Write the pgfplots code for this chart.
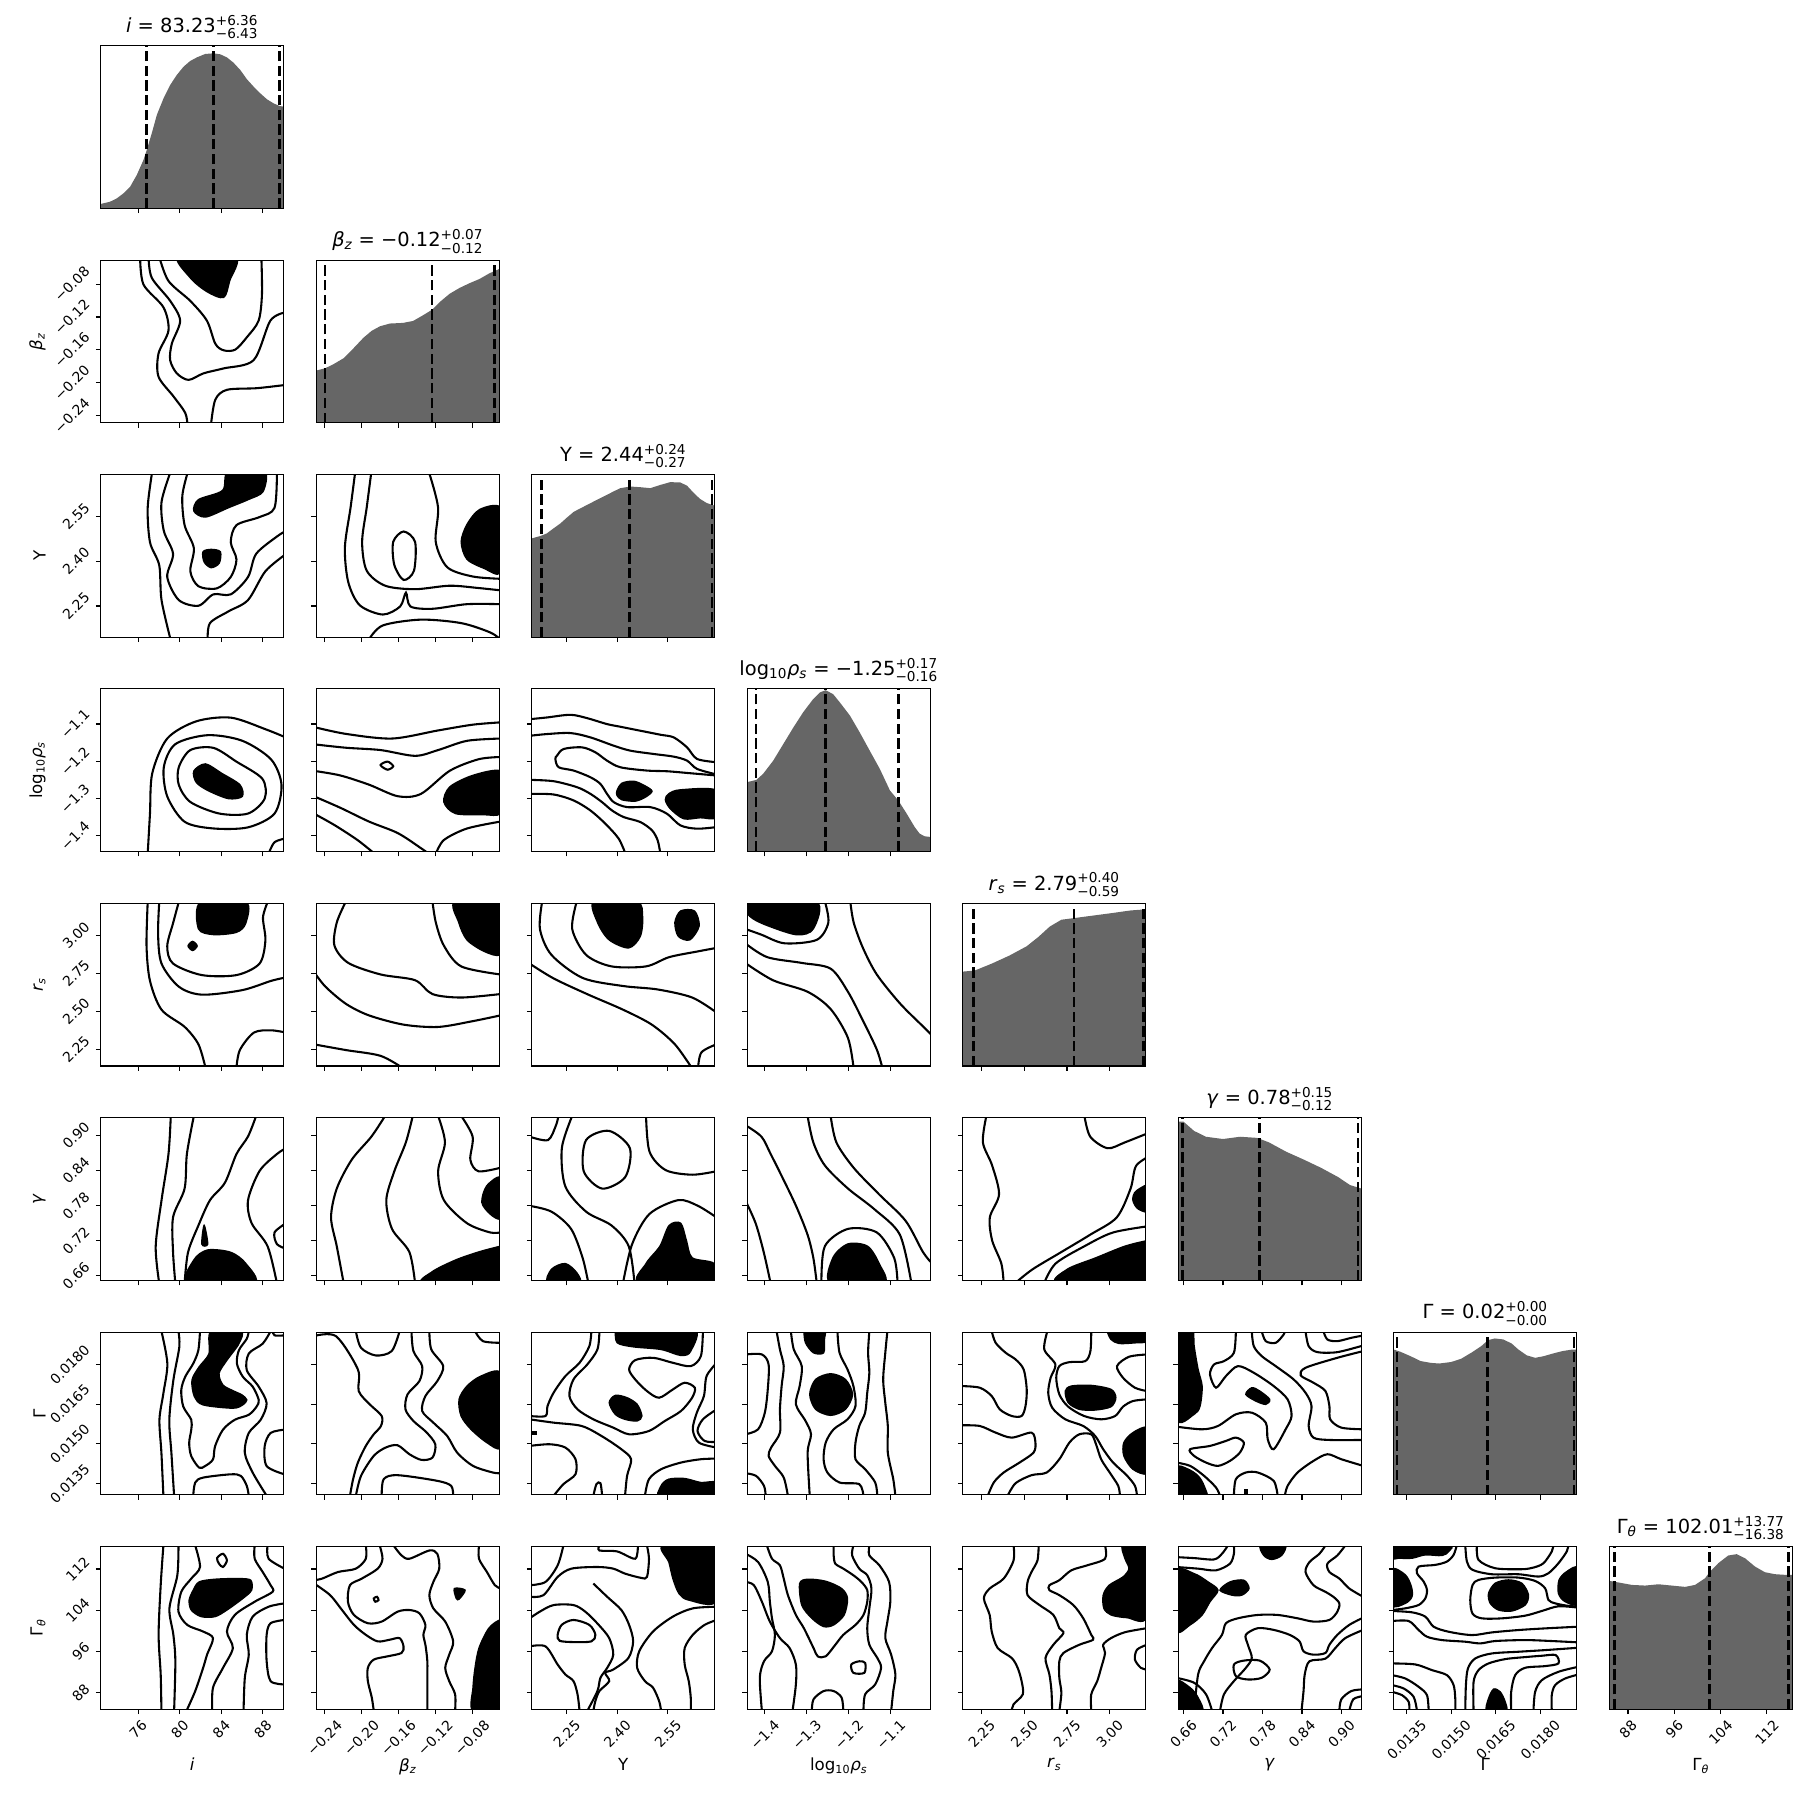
\documentclass[border=0pt]{standalone}
\usepackage{fontspec}
\setmainfont{DejaVu Sans}
\usepackage{amsmath}
\usepackage{graphicx}
\usepackage{pgfplots}
\pgfplotsset{compat=1.18}
\definecolor{histgray}{HTML}{666666}
\newcommand{\rx}[1]{\rotatebox{45}{#1}}
\newcommand{\sus}[2]{$^{\text{#1}}_{\text{#2}}$}
\newcommand{\lbi}{\textit{i}}
\newcommand{\lbb}{\textit{β}$_{\text{\itshape z}}$}
\newcommand{\lbY}{Y}
\newcommand{\lbr}{log$_{\text{10}}$\textit{ρ}$_{\text{\itshape s}}$}
\newcommand{\lbs}{\textit{r}$_{\text{\itshape s}}$}
\newcommand{\lbg}{\textit{γ}}
\newcommand{\lbG}{Γ}
\newcommand{\lbT}{Γ$_{\text{\itshape θ}}$}

\pgfplotsset{
  corner/.style={
    scale only axis, width=131.76pt, height=117.14pt,
    axis line style={line width=0.8pt},
    every tick/.style={black, line width=0.8pt},
    major tick length=3.5pt, tick align=outside, tick pos=left,
    xticklabel=\empty, yticklabel=\empty,
    tick label style={font=\fontsize{10}{12}\selectfont, inner sep=0pt},
    xticklabel style={anchor=north, yshift=-3.5pt},
    yticklabel style={anchor=east, xshift=-3.5pt},
    every axis x label/.style={at={(axis description cs:0.5,-0.3)}, anchor=north, inner sep=0pt, font=\fontsize{12}{14}\selectfont},
    every axis y label/.style={at={(axis description cs:-0.3,0.5)}, rotate=90, anchor=south, inner sep=0pt, font=\fontsize{12}{14}\selectfont},
    every axis title/.style={at={(axis description cs:0.5,1)}, anchor=base, yshift=9.5pt, inner sep=0pt, font=\fontsize{14}{16}\selectfont},
    scaled ticks=false, axis on top, clip=true,
  },
  place/.style 2 args={at={({72.5pt+155.16pt*#1},{1152.43pt-154.37pt*#2})}, anchor=south west},
  diag/.style={ymin=0, ymax=1, ytick=\empty},
  cl/.style={black, line width=1.5pt, smooth, mark=none},
  cc/.style={black, line width=1.5pt, smooth cycle, mark=none},
  bl/.style={fill=black, draw=black, line width=1pt, smooth cycle, mark=none},
  hist/.style={fill=histgray, draw=none, mark=none},
  ql/.style={black, line width=2pt, dash pattern=on 7.4pt off 3.2pt, mark=none},
  % columns
  xI/.style={xmin=72.4, xmax=90.0, xtick={76,80,84,88}},
  xB/.style={xmin=-0.249, xmax=-0.0506, xtick={-0.24,-0.20,-0.16,-0.12,-0.08}},
  xY/.style={xmin=2.146, xmax=2.689, xtick={2.25,2.40,2.55}},
  xR/.style={xmin=-1.442, xmax=-1.006, xtick={-1.4,-1.3,-1.2,-1.1}},
  xS/.style={xmin=2.139, xmax=3.211, xtick={2.25,2.5,2.75,3.0}},
  xGa/.style={xmin=0.652, xmax=0.930, xtick={0.66,0.72,0.78,0.84,0.90}},
  xG/.style={xmin=0.013066, xmax=0.019225, xtick={0.0135,0.0150,0.0165,0.0180}},
  xT/.style={xmin=84.75, xmax=116.37, xtick={88,96,104,112}},
  xIl/.style={xI, xticklabels={\rx{76},\rx{80},\rx{84},\rx{88}}, xlabel={\lbi}},
  xBl/.style={xB, xticklabels={\rx{−0.24},\rx{−0.20},\rx{−0.16},\rx{−0.12},\rx{−0.08}}, xlabel={\lbb}},
  xYl/.style={xY, xticklabels={\rx{2.25},\rx{2.40},\rx{2.55}}, xlabel={\lbY}},
  xRl/.style={xR, xticklabels={\rx{−1.4},\rx{−1.3},\rx{−1.2},\rx{−1.1}}, xlabel={\lbr}},
  xSl/.style={xS, xticklabels={\rx{2.25},\rx{2.50},\rx{2.75},\rx{3.00}}, xlabel={\lbs}},
  xGal/.style={xGa, xticklabels={\rx{0.66},\rx{0.72},\rx{0.78},\rx{0.84},\rx{0.90}}, xlabel={\lbg}},
  xGl/.style={xG, xticklabels={\rx{0.0135},\rx{0.0150},\rx{0.0165},\rx{0.0180}}, xlabel={\lbG}},
  xTl/.style={xT, xticklabels={\rx{88},\rx{96},\rx{104},\rx{112}}, xlabel={\lbT}},
  % rows
  yB/.style={ymin=-0.249, ymax=-0.0506, ytick={-0.24,-0.20,-0.16,-0.12,-0.08}},
  yY/.style={ymin=2.146, ymax=2.689, ytick={2.25,2.40,2.55}},
  yR/.style={ymin=-1.442, ymax=-1.006, ytick={-1.4,-1.3,-1.2,-1.1}},
  yS/.style={ymin=2.139, ymax=3.211, ytick={2.25,2.5,2.75,3.0}},
  yGa/.style={ymin=0.652, ymax=0.930, ytick={0.66,0.72,0.78,0.84,0.90}},
  yG/.style={ymin=0.013066, ymax=0.019225, ytick={0.0135,0.0150,0.0165,0.0180}},
  yT/.style={ymin=84.75, ymax=116.37, ytick={88,96,104,112}},
  yBl/.style={yB, yticklabels={\rx{−0.24},\rx{−0.20},\rx{−0.16},\rx{−0.12},\rx{−0.08}}, ylabel={\lbb}},
  yYl/.style={yY, yticklabels={\rx{2.25},\rx{2.40},\rx{2.55}}, ylabel={\lbY}},
  yRl/.style={yR, yticklabels={\rx{−1.4},\rx{−1.3},\rx{−1.2},\rx{−1.1}}, ylabel={\lbr}},
  ySl/.style={yS, yticklabels={\rx{2.25},\rx{2.50},\rx{2.75},\rx{3.00}}, ylabel={\lbs}},
  yGal/.style={yGa, yticklabels={\rx{0.66},\rx{0.72},\rx{0.78},\rx{0.84},\rx{0.90}}, ylabel={\lbg}},
  yGl/.style={yG, yticklabels={\rx{0.0135},\rx{0.0150},\rx{0.0165},\rx{0.0180}}, ylabel={\lbG}},
  yTl/.style={yT, yticklabels={\rx{88},\rx{96},\rx{104},\rx{112}}, ylabel={\lbT}},
}

\begin{document}
\begin{tikzpicture}
\path[use as bounding box] (0,0) rectangle (1302.48pt,1302.48pt);

% ===================== diagonal =====================
\begin{axis}[corner, place={0}{0}, xI, diag, title={\lbi{} = 83.23\sus{+6.36}{−6.43}}]
\addplot[hist] coordinates {(72.4,0.027) (73.3,0.041) (73.94,0.061) (74.58,0.092) (75.23,0.133) (75.87,0.205) (76.51,0.297) (76.83,0.359) (77.31,0.461) (77.8,0.574) (78.44,0.676) (79.08,0.758) (79.72,0.82) (80.37,0.871) (81.01,0.906) (81.65,0.928) (82.45,0.949) (83.26,0.953) (83.9,0.947) (84.54,0.928) (85.18,0.895) (85.83,0.85) (86.47,0.793) (87.11,0.748) (87.75,0.707) (88.4,0.67) (89.04,0.645) (89.62,0.629) (90.0,0.625)} \closedcycle;
\addplot[ql] coordinates {(76.8,0) (76.8,1)};
\addplot[ql] coordinates {(83.23,0) (83.23,1)};
\addplot[ql] coordinates {(89.59,0) (89.59,1)};
\end{axis}

\begin{axis}[corner, place={1}{1}, xB, diag, title={\lbb{} = −0.12\sus{+0.07}{−0.12}}]
\addplot[hist] coordinates {(-0.249,0.321) (-0.2393,0.335) (-0.2303,0.36) (-0.2195,0.396) (-0.2087,0.457) (-0.1979,0.522) (-0.1889,0.565) (-0.1799,0.593) (-0.1691,0.61) (-0.1547,0.614) (-0.1439,0.626) (-0.1331,0.661) (-0.1234,0.695) (-0.1151,0.742) (-0.1043,0.793) (-0.0935,0.829) (-0.0827,0.858) (-0.0719,0.884) (-0.0611,0.919) (-0.0506,0.945)} \closedcycle;
\addplot[ql] coordinates {(-0.2395,0) (-0.2395,1)};
\addplot[ql] coordinates {(-0.1235,0) (-0.1235,1)};
\addplot[ql] coordinates {(-0.0555,0) (-0.0555,1)};
\end{axis}

\begin{axis}[corner, place={2}{2}, xY, diag, title={\lbY{} = 2.44\sus{+0.24}{−0.27}}]
\addplot[hist] coordinates {(2.146,0.607) (2.172,0.622) (2.191,0.638) (2.211,0.669) (2.231,0.699) (2.251,0.736) (2.271,0.771) (2.3,0.802) (2.33,0.834) (2.36,0.865) (2.389,0.896) (2.409,0.916) (2.439,0.926) (2.468,0.922) (2.498,0.916) (2.528,0.936) (2.557,0.953) (2.587,0.951) (2.607,0.931) (2.627,0.886) (2.646,0.849) (2.666,0.824) (2.689,0.808)} \closedcycle;
\addplot[ql] coordinates {(2.174,0) (2.174,1)};
\addplot[ql] coordinates {(2.437,0) (2.437,1)};
\addplot[ql] coordinates {(2.681,0) (2.681,1)};
\end{axis}

\begin{axis}[corner, place={3}{3}, xR, diag, title={\lbr{} = −1.25\sus{+0.17}{−0.16}}]
\addplot[hist] coordinates {(-1.442,0.427) (-1.42,0.441) (-1.404,0.478) (-1.38,0.559) (-1.356,0.661) (-1.332,0.763) (-1.309,0.855) (-1.285,0.937) (-1.269,0.978) (-1.255,0.992) (-1.237,0.967) (-1.221,0.916) (-1.197,0.835) (-1.174,0.733) (-1.15,0.62) (-1.126,0.508) (-1.102,0.376) (-1.082,0.314) (-1.062,0.233) (-1.043,0.151) (-1.031,0.11) (-1.019,0.094) (-1.006,0.09)} \closedcycle;
\addplot[ql] coordinates {(-1.421,0) (-1.421,1)};
\addplot[ql] coordinates {(-1.255,0) (-1.255,1)};
\addplot[ql] coordinates {(-1.082,0) (-1.082,1)};
\end{axis}

\begin{axis}[corner, place={4}{4}, xS, diag, title={\lbs{} = 2.79\sus{+0.40}{−0.59}}]
\addplot[hist] coordinates {(2.139,0.58) (2.21,0.587) (2.311,0.63) (2.413,0.679) (2.514,0.736) (2.582,0.793) (2.649,0.857) (2.717,0.899) (2.819,0.913) (2.92,0.927) (3.021,0.941) (3.122,0.956) (3.211,0.963)} \closedcycle;
\addplot[ql] coordinates {(2.203,0) (2.203,1)};
\addplot[ql] coordinates {(2.791,0) (2.791,1)};
\addplot[ql] coordinates {(3.197,0) (3.197,1)};
\end{axis}

\begin{axis}[corner, place={5}{5}, xGa, diag, title={\lbg{} = 0.78\sus{+0.15}{−0.12}}]
\addplot[hist] coordinates {(0.652,0.976) (0.66,0.976) (0.676,0.919) (0.694,0.883) (0.72,0.869) (0.746,0.883) (0.772,0.876) (0.79,0.848) (0.816,0.791) (0.843,0.742) (0.869,0.692) (0.895,0.635) (0.913,0.586) (0.93,0.565)} \closedcycle;
\addplot[ql] coordinates {(0.658,0) (0.658,1)};
\addplot[ql] coordinates {(0.776,0) (0.776,1)};
\addplot[ql] coordinates {(0.925,0) (0.925,1)};
\end{axis}

\begin{axis}[corner, place={6}{6}, xG, diag, title={\lbG{} = 0.02\sus{+0.00}{−0.00}}]
\addplot[hist] coordinates {(0.013066,0.893) (0.013293,0.879) (0.013633,0.852) (0.013973,0.822) (0.014313,0.811) (0.014597,0.807) (0.014994,0.816) (0.015334,0.836) (0.015674,0.873) (0.016014,0.914) (0.016241,0.951) (0.016468,0.961) (0.016752,0.955) (0.017035,0.93) (0.017262,0.893) (0.017545,0.857) (0.017829,0.842) (0.018112,0.852) (0.018396,0.867) (0.018736,0.883) (0.019076,0.893) (0.019225,0.893)} \closedcycle;
\addplot[ql] coordinates {(0.013179,0) (0.013179,1)};
\addplot[ql] coordinates {(0.016218,0) (0.016218,1)};
\addplot[ql] coordinates {(0.019133,0) (0.019133,1)};
\end{axis}

\begin{axis}[corner, place={7}{7}, xTl, diag, title={\lbT{} = 102.01\sus{+13.77}{−16.38}}]
\addplot[hist] coordinates {(84.75,0.789) (86.36,0.779) (88.66,0.764) (90.96,0.76) (93.26,0.768) (95.56,0.76) (97.86,0.752) (99.58,0.764) (101.31,0.805) (102.17,0.846) (103.61,0.898) (105.33,0.945) (106.77,0.953) (108.21,0.928) (109.93,0.877) (111.66,0.842) (113.38,0.83) (115.1,0.826) (116.37,0.826)} \closedcycle;
\addplot[ql] coordinates {(85.63,0) (85.63,1)};
\addplot[ql] coordinates {(102.01,0) (102.01,1)};
\addplot[ql] coordinates {(115.78,0) (115.78,1)};
\end{axis}

% ===================== column 0 (i) =====================
\begin{axis}[corner, place={0}{1}, xI, yBl]
\addplot[bl] coordinates {(79.88,-0.046) (81.01,-0.0721) (82.61,-0.089) (84.22,-0.0962) (84.8,-0.0761) (85.34,-0.046)};
\addplot[cl] coordinates {(78.02,-0.046) (78.92,-0.0761) (81.01,-0.1003) (82.61,-0.1244) (83.42,-0.1525) (84.22,-0.1606) (85.34,-0.1598) (86.47,-0.1445) (87.59,-0.1244) (87.91,-0.0922) (87.85,-0.046)};
\addplot[cl] coordinates {(77.0,-0.046) (77.31,-0.0721) (79.08,-0.1003) (80.04,-0.1244) (79.24,-0.1525) (79.08,-0.1726) (79.72,-0.1887) (80.85,-0.1967) (82.29,-0.1887) (84.22,-0.1827) (87.11,-0.1726) (88.72,-0.1244) (90.2,-0.1143)};
\addplot[cl] coordinates {(76.19,-0.046) (76.51,-0.0802) (78.44,-0.1083) (78.92,-0.1364) (77.96,-0.1646) (77.96,-0.1927) (79.4,-0.2168) (80.53,-0.2369) (80.75,-0.252)};
\addplot[cl] coordinates {(83.0,-0.252) (83.42,-0.2209) (84.54,-0.2088) (87.43,-0.2068) (90.2,-0.2028)};
\end{axis}

\begin{axis}[corner, place={0}{2}, xI, yYl]
\addplot[bl] coordinates {(84.68,2.70) (84.13,2.636) (81.8,2.605) (81.36,2.567) (82.47,2.547) (84.68,2.578) (86.57,2.605) (88.01,2.632) (88.12,2.70)};
\addplot[bl] coordinates {(82.24,2.431) (83.02,2.439) (83.91,2.431) (83.8,2.393) (83.02,2.378) (82.35,2.397)};
\addplot[cl] coordinates {(80.8,2.70) (80.25,2.617) (80.47,2.52) (81.36,2.443) (81.02,2.366) (81.8,2.316) (83.57,2.309) (84.91,2.347) (85.46,2.405) (84.91,2.463) (85.46,2.52) (87.68,2.547) (89.12,2.578) (89.35,2.70)};
\addplot[cl] coordinates {(79.14,2.70) (78.25,2.597) (78.47,2.501) (79.36,2.424) (78.8,2.347) (79.91,2.27) (81.8,2.251) (83.24,2.289) (84.91,2.289) (86.57,2.347) (87.35,2.424) (89.35,2.482) (90.24,2.501)};
\addplot[cl] coordinates {(77.36,2.70) (76.92,2.578) (77.14,2.463) (78.03,2.386) (78.25,2.27) (79.14,2.135)};
\addplot[cl] coordinates {(82.69,2.135) (82.91,2.193) (84.68,2.232) (86.57,2.27) (88.24,2.366) (90.24,2.424)};
\end{axis}

\begin{axis}[corner, place={0}{3}, xI, yRl]
\addplot[bl] coordinates {(81.36,-1.226) (82.47,-1.207) (84.02,-1.232) (85.79,-1.263) (86.02,-1.294) (84.68,-1.3) (82.69,-1.278) (81.58,-1.256)};
\addplot[cc] coordinates {(79.91,-1.216) (81.02,-1.17) (83.24,-1.164) (85.46,-1.201) (87.95,-1.247) (88.17,-1.3) (86.57,-1.34) (83.8,-1.34) (81.02,-1.309) (79.91,-1.263)};
\addplot[cc] coordinates {(78.8,-1.294) (78.47,-1.216) (79.58,-1.154) (82.69,-1.13) (86.02,-1.145) (88.79,-1.195) (89.79,-1.263) (89.12,-1.34) (86.57,-1.377) (83.24,-1.38) (80.47,-1.362)};
\addplot[cl] coordinates {(76.92,-1.448) (77.14,-1.34) (77.36,-1.232) (78.8,-1.139) (81.58,-1.093) (84.91,-1.083) (88.24,-1.114) (90.45,-1.139)};
\addplot[cl] coordinates {(88.46,-1.454) (89.12,-1.417) (90.45,-1.405)};
\end{axis}

\begin{axis}[corner, place={0}{4}, xI, ySl]
\addplot[bl] coordinates {(82.02,3.22) (81.8,3.043) (83.24,3.005) (85.46,3.02) (86.35,3.08) (86.35,3.22)};
\addplot[bl] coordinates {(80.8,2.93) (81.24,2.96) (81.68,2.93) (81.24,2.9)};
\addplot[cl] coordinates {(79.91,3.22) (79.36,3.08) (78.8,2.928) (79.36,2.814) (82.13,2.738) (85.46,2.738) (87.68,2.814) (88.24,2.966) (88.01,3.118) (88.46,3.22)};
\addplot[cl] coordinates {(78.03,3.22) (77.92,3.005) (78.25,2.814) (79.91,2.662) (82.13,2.609) (86.02,2.639) (88.79,2.7) (90.24,2.723)};
\addplot[cl] coordinates {(76.92,3.22) (76.81,2.928) (77.14,2.7) (78.25,2.51) (80.47,2.397) (81.8,2.282) (82.47,2.13)};
\addplot[cl] coordinates {(85.46,2.13) (85.79,2.245) (87.13,2.359) (88.79,2.374) (90.24,2.359)};
\end{axis}

\begin{axis}[corner, place={0}{5}, xI, yGal]
\addplot[bl] coordinates {(80.8,0.647) (81.36,0.687) (82.69,0.704) (84.91,0.7) (86.35,0.681) (87.13,0.647)};
\addplot[bl] coordinates {(82.13,0.714) (82.35,0.746) (82.69,0.714)};
\addplot[cl] coordinates {(79.14,0.933) (78.92,0.868) (78.25,0.789) (77.69,0.71) (78.03,0.647)};
\addplot[cl] coordinates {(81.36,0.933) (80.69,0.868) (80.47,0.809) (79.36,0.76) (79.36,0.7) (79.58,0.647)};
\addplot[cl] coordinates {(80.47,0.647) (80.8,0.7) (81.8,0.746) (82.91,0.789) (84.35,0.819) (85.46,0.868) (86.57,0.898) (87.35,0.933)};
\addplot[cl] coordinates {(89.35,0.647) (88.46,0.71) (86.91,0.75) (86.57,0.789) (87.68,0.839) (89.35,0.868) (90.24,0.878)};
\addplot[cl] coordinates {(90.24,0.75) (89.12,0.734) (89.35,0.714) (90.24,0.706)};
\end{axis}

\begin{axis}[corner, place={0}{6}, xI, yGl]
\addplot[bl] coordinates {(83.01,0.01926) (82.82,0.018412) (81.87,0.017911) (81.18,0.01741) (81.41,0.016784) (82.25,0.016471) (85.11,0.016346) (86.07,0.016471) (86.45,0.016659) (85.99,0.016847) (85.11,0.01701) (84.16,0.017223) (83.78,0.017661) (84.54,0.018162) (85.69,0.018788) (85.88,0.01926)};
\addplot[cl] coordinates {(81.95,0.01926) (81.79,0.018537) (81.3,0.018036) (80.53,0.017536) (80.15,0.017035) (80.34,0.016409) (81.11,0.015908) (81.11,0.015532) (80.91,0.015032) (81.11,0.014531) (81.87,0.014093) (82.44,0.014155) (83.2,0.014406) (83.4,0.014906) (84.16,0.015532) (85.3,0.015908) (86.64,0.016096) (87.4,0.016409) (87.6,0.016659) (87.02,0.01716) (86.07,0.017536) (85.5,0.018036) (85.69,0.018537) (86.45,0.018975) (86.64,0.01926)};
\addplot[cl] coordinates {(78.24,0.01926) (78.81,0.018036) (78.43,0.01691) (78.05,0.015908) (78.24,0.014656) (78.43,0.01303)};
\addplot[cl] coordinates {(79.88,0.01926) (79.96,0.018662) (79.39,0.01741) (79.0,0.015908) (79.2,0.014656) (79.46,0.01303)};
\addplot[cl] coordinates {(88.74,0.01926) (87.98,0.018788) (86.64,0.018412) (86.45,0.017786) (87.6,0.01716) (88.36,0.016534) (87.79,0.015908) (86.64,0.015407) (86.26,0.014656) (87.02,0.013905) (88.36,0.01303)};
\addplot[cl] coordinates {(90.08,0.015532) (88.74,0.015407) (88.17,0.014906) (88.36,0.014155) (90.08,0.013842)};
\addplot[cl] coordinates {(88.94,0.01926) (89.12,0.019101) (90.08,0.019101)};
\addplot[cl] coordinates {(81.3,0.01303) (81.49,0.013529) (82.25,0.013717) (84.92,0.013842) (85.88,0.01378) (86.45,0.013404) (86.64,0.01303)};
\end{axis}

\begin{axis}[corner, place={0}{7}, xIl, yTl]
\addplot[bl] coordinates {(81.3,107.89) (81.87,109.49) (83.4,110.01) (85.69,110.14) (86.83,109.82) (86.91,107.89) (86.07,106.28) (84.54,104.03) (83.4,102.75) (82.06,102.75) (81.11,104.03) (80.91,105.96)};
\addplot[cc] coordinates {(83.59,114.12) (84.16,114.96) (84.54,113.67) (84.16,112.39) (83.78,113.03)};
\addplot[cl] coordinates {(78.43,116.56) (78.17,108.85) (77.97,99.21) (78.17,91.5) (78.24,84.43)};
\addplot[cl] coordinates {(79.88,116.56) (79.77,110.78) (79.01,104.35) (79.39,99.21) (79.58,94.07) (79.46,84.43)};
\addplot[cl] coordinates {(81.49,116.56) (81.95,112.39) (81.11,110.14) (80.15,107.57) (79.88,103.71) (80.72,101.14) (82.25,99.85) (83.2,98.57) (82.63,95.35) (82.25,92.78) (81.49,88.28) (80.65,84.43)};
\addplot[cl] coordinates {(87.21,116.56) (87.21,114.0) (87.98,111.42) (88.74,108.85) (88.93,107.57) (87.21,105.64) (85.3,103.07) (84.54,99.85) (85.11,96.64) (84.16,92.78) (83.2,88.93) (83.13,84.43)};
\addplot[cl] coordinates {(88.44,116.56) (88.55,114.0) (90.08,112.07)};
\addplot[cl] coordinates {(90.08,105.32) (88.55,104.67) (87.02,102.75) (86.45,99.21) (86.64,95.35) (86.26,90.86) (86.14,84.43)};
\addplot[cl] coordinates {(90.08,102.1) (88.74,101.46) (88.36,99.21) (88.36,94.07) (88.74,90.21) (90.08,89.57)};
\end{axis}

% ===================== column 1 (beta_z) =====================
\begin{axis}[corner, place={1}{2}, xB, yY]
\addplot[bl] coordinates {(-0.0494,2.5796) (-0.0719,2.5719) (-0.0856,2.5218) (-0.0918,2.4641) (-0.0856,2.4063) (-0.0669,2.3755) (-0.0494,2.3602) (-0.045,2.47)};
\addplot[cl] coordinates {(-0.2067,2.698) (-0.2117,2.5796) (-0.2179,2.4449) (-0.2142,2.3294) (-0.2017,2.2524) (-0.1767,2.2216) (-0.158,2.2485) (-0.1517,2.2947) (-0.1468,2.2485) (-0.123,2.2408) (-0.0856,2.2562) (-0.0494,2.2562)};
\addplot[cl] coordinates {(-0.1892,2.698) (-0.1942,2.5796) (-0.1992,2.4641) (-0.1942,2.3679) (-0.1742,2.3178) (-0.1418,2.3062) (-0.1043,2.3178) (-0.0731,2.3101) (-0.0494,2.3024)};
\addplot[cl] coordinates {(-0.1269,2.698) (-0.1169,2.5796) (-0.1194,2.4641) (-0.1069,2.3794) (-0.0794,2.3486) (-0.0494,2.3409)};
\addplot[cc] coordinates {(-0.1655,2.4641) (-0.1542,2.4988) (-0.1418,2.4641) (-0.143,2.3679) (-0.1542,2.3371) (-0.1643,2.3871)};
\addplot[cl] coordinates {(-0.1917,2.139) (-0.1767,2.1853) (-0.1355,2.2046) (-0.0918,2.193) (-0.0606,2.1622) (-0.0494,2.139)};
\end{axis}

\begin{axis}[corner, place={1}{3}, xB, yR]
\addplot[bl] coordinates {(-0.0494,-1.2256) (-0.0794,-1.2379) (-0.1043,-1.2689) (-0.1106,-1.309) (-0.0981,-1.34) (-0.0669,-1.3431) (-0.0494,-1.34) (-0.045,-1.28)};
\addplot[cc] coordinates {(-0.1792,-1.2101) (-0.1717,-1.2008) (-0.1655,-1.2132) (-0.1717,-1.2225)};
\addplot[cl] coordinates {(-0.2516,-1.1081) (-0.2167,-1.1266) (-0.1667,-1.139) (-0.1168,-1.1173) (-0.0794,-1.1019) (-0.0494,-1.0957)};
\addplot[cl] coordinates {(-0.2516,-1.1544) (-0.2167,-1.1637) (-0.1792,-1.1699) (-0.1418,-1.1854) (-0.1168,-1.1699) (-0.0856,-1.1452) (-0.0494,-1.139)};
\addplot[cl] coordinates {(-0.2516,-1.2256) (-0.2229,-1.2379) (-0.1917,-1.2627) (-0.1605,-1.2936) (-0.1355,-1.2874) (-0.1043,-1.2256) (-0.0731,-1.1946) (-0.0494,-1.1885)};
\addplot[cl] coordinates {(-0.2516,-1.2936) (-0.2229,-1.3245) (-0.1917,-1.3616) (-0.1605,-1.3925) (-0.1355,-1.4327) (-0.1268,-1.448)};
\addplot[cl] coordinates {(-0.2516,-1.34) (-0.2292,-1.3709) (-0.2042,-1.4111) (-0.1855,-1.448)};
\addplot[cl] coordinates {(-0.0494,-1.3616) (-0.0856,-1.3802) (-0.1106,-1.4111) (-0.1193,-1.448)};
\end{axis}

\begin{axis}[corner, place={1}{4}, xB, yS]
\addplot[bl] coordinates {(-0.0981,3.2247) (-0.0944,3.0843) (-0.0856,2.9703) (-0.0669,2.8943) (-0.0494,2.8715) (-0.042,3.0) (-0.042,3.225)};
\addplot[cl] coordinates {(-0.123,3.2247) (-0.1193,3.0843) (-0.1106,2.9323) (-0.0918,2.7954) (-0.0494,2.7422)};
\addplot[cl] coordinates {(-0.2167,3.2247) (-0.2267,3.0843) (-0.2292,2.9323) (-0.2142,2.8182) (-0.1792,2.7422) (-0.1418,2.7042) (-0.123,2.613) (-0.0918,2.5902) (-0.0494,2.613)};
\addplot[cl] coordinates {(-0.2516,2.7612) (-0.2391,2.6624) (-0.2167,2.5483) (-0.1917,2.4723) (-0.1542,2.4115) (-0.1168,2.3963) (-0.0794,2.4343) (-0.0494,2.4723)};
\addplot[cl] coordinates {(-0.2516,2.2819) (-0.2167,2.2439) (-0.1792,2.2059) (-0.1542,2.122)};
\end{axis}

\begin{axis}[corner, place={1}{5}, xB, yGa]
\addplot[bl] coordinates {(-0.1318,0.6473) (-0.123,0.667) (-0.0981,0.6867) (-0.0731,0.7005) (-0.0494,0.7104) (-0.0457,0.7104) (-0.0457,0.6473)};
\addplot[bl] coordinates {(-0.0494,0.8287) (-0.0644,0.8129) (-0.0694,0.7853) (-0.0606,0.7656) (-0.0494,0.7577) (-0.0457,0.7931)};
\addplot[cl] coordinates {(-0.1743,0.9331) (-0.1892,0.8976) (-0.2105,0.8582) (-0.2267,0.8089) (-0.2329,0.7596) (-0.2267,0.7104) (-0.2192,0.6473)};
\addplot[cl] coordinates {(-0.1443,0.9331) (-0.1518,0.8878) (-0.1643,0.8385) (-0.173,0.7892) (-0.1668,0.7399) (-0.148,0.7005) (-0.1418,0.6473)};
\addplot[cl] coordinates {(-0.1168,0.9331) (-0.1094,0.8878) (-0.1168,0.8385) (-0.1106,0.7892) (-0.0856,0.7498) (-0.0606,0.734) (-0.0494,0.734)};
\addplot[cl] coordinates {(-0.0918,0.9331) (-0.0794,0.8976) (-0.0819,0.8582) (-0.0731,0.8385) (-0.0494,0.8444)};
\end{axis}

\begin{axis}[corner, place={1}{6}, xB, yG]
\addplot[bl] coordinates {(-0.0489,0.017686) (-0.0704,0.01756) (-0.0855,0.017183) (-0.0941,0.016679) (-0.0919,0.01605) (-0.0812,0.015546) (-0.064,0.015043) (-0.0489,0.014854) (-0.045,0.0162)};
\addplot[cl] coordinates {(-0.252,0.019071) (-0.2275,0.019071) (-0.2038,0.017812) (-0.2029,0.016994) (-0.1909,0.01649) (-0.178,0.01605) (-0.1788,0.015672) (-0.1866,0.015357) (-0.1952,0.014917) (-0.2038,0.014287) (-0.209,0.013658) (-0.2124,0.013028)};
\addplot[cl] coordinates {(-0.206,0.013028) (-0.2004,0.013784) (-0.1866,0.014539) (-0.1737,0.014854) (-0.1608,0.014942) (-0.1479,0.014602) (-0.1349,0.014388) (-0.1229,0.014476) (-0.1199,0.01498) (-0.1298,0.015445) (-0.1436,0.015861) (-0.1522,0.016302) (-0.15,0.016868) (-0.1371,0.017372) (-0.1341,0.017938) (-0.1436,0.018505) (-0.1457,0.01926)};
\addplot[cl] coordinates {(-0.1263,0.01926) (-0.1242,0.018568) (-0.1113,0.017938) (-0.1177,0.017372) (-0.1306,0.016805) (-0.1341,0.016239) (-0.122,0.015798) (-0.107,0.015294) (-0.0962,0.014665) (-0.079,0.014161) (-0.0575,0.01391) (-0.0489,0.013884)};
\addplot[cl] coordinates {(-0.206,0.01926) (-0.2004,0.018631) (-0.1844,0.018341) (-0.1672,0.018505) (-0.1586,0.01926)};
\addplot[cl] coordinates {(-0.0768,0.01926) (-0.0682,0.018883) (-0.0489,0.01882)};
\addplot[cl] coordinates {(-0.178,0.013028) (-0.1758,0.013658) (-0.1608,0.013809) (-0.1177,0.013595) (-0.1027,0.013406) (-0.1005,0.013028)};
\end{axis}

\begin{axis}[corner, place={1}{7}, xBl, yT]
\addplot[bl] coordinates {(-0.0489,102.1) (-0.0618,100.5) (-0.0725,96.64) (-0.0768,92.78) (-0.079,88.93) (-0.079,84.43) (-0.045,84.43) (-0.045,100.0)};
\addplot[bl] coordinates {(-0.0992,108.21) (-0.0876,107.89) (-0.094,106.15) (-0.0971,106.28)};
\addplot[cc] coordinates {(-0.1866,106.28) (-0.1831,106.6) (-0.1814,105.96) (-0.1849,105.64)};
\addplot[cl] coordinates {(-0.2512,109.82) (-0.2425,110.14) (-0.2253,111.42) (-0.206,112.07) (-0.1952,114.0) (-0.1952,116.56)};
\addplot[cl] coordinates {(-0.2512,109.17) (-0.2339,106.92) (-0.221,104.03) (-0.2081,101.14) (-0.1952,99.21) (-0.1823,97.93) (-0.1694,98.25) (-0.1586,98.57) (-0.1543,96.96) (-0.1565,95.68) (-0.1715,95.03) (-0.1866,94.39) (-0.193,92.78) (-0.193,90.21) (-0.1887,87.0) (-0.1866,84.43)};
\addplot[cl] coordinates {(-0.1801,116.56) (-0.1771,114.0) (-0.1823,112.07) (-0.1995,110.14) (-0.2124,108.85) (-0.2146,105.64) (-0.2081,103.07) (-0.193,101.46) (-0.178,101.78) (-0.1608,103.71) (-0.1479,104.03) (-0.1371,103.39) (-0.1306,101.14) (-0.1328,99.21) (-0.1306,97.28) (-0.1285,94.07) (-0.1285,90.21) (-0.1285,84.43)};
\addplot[cl] coordinates {(-0.1651,116.56) (-0.1565,114.64) (-0.1479,114.0) (-0.1263,115.6) (-0.1177,114.96) (-0.1156,112.07) (-0.122,109.49) (-0.1263,106.92) (-0.122,104.35) (-0.1091,101.78) (-0.1005,97.93) (-0.1048,95.35) (-0.1091,92.78) (-0.1048,90.21) (-0.0984,87.64) (-0.0984,84.43)};
\addplot[cl] coordinates {(-0.0725,116.56) (-0.0725,114.0) (-0.0639,111.42) (-0.0553,108.85) (-0.0489,108.21)};
\end{axis}

% ===================== column 2 (Y) =====================
\begin{axis}[corner, place={2}{3}, xY, yR]
\addplot[bl] coordinates {(2.3992,-1.2783) (2.414,-1.2587) (2.4486,-1.2534) (2.4803,-1.2649) (2.503,-1.28) (2.4833,-1.2961) (2.4536,-1.3067) (2.414,-1.3032) (2.3992,-1.2916)};
\addplot[bl] coordinates {(2.696,-1.2783) (2.5871,-1.2765) (2.5525,-1.2872) (2.5426,-1.3032) (2.5574,-1.3272) (2.597,-1.3539) (2.6464,-1.3512) (2.696,-1.3495)};
\addplot[cl] coordinates {(2.142,-1.087) (2.1915,-1.0825) (2.2607,-1.0754) (2.3102,-1.0843) (2.3695,-1.1003) (2.4091,-1.1074) (2.4684,-1.1181) (2.5278,-1.1288) (2.5673,-1.1359) (2.6069,-1.1626) (2.6366,-1.1937) (2.696,-1.2026)};
\addplot[cl] coordinates {(2.142,-1.1315) (2.1915,-1.127) (2.2607,-1.1243) (2.3201,-1.1359) (2.3893,-1.1582) (2.4387,-1.1715) (2.508,-1.1804) (2.5673,-1.1875) (2.6069,-1.1982) (2.6366,-1.2204) (2.696,-1.2356)};
\addplot[cl] coordinates {(2.696,-1.2382) (2.6168,-1.232) (2.5475,-1.2267) (2.4882,-1.2249) (2.4091,-1.216) (2.3695,-1.1982) (2.3349,-1.1759) (2.2953,-1.1626) (2.2409,-1.167) (2.2212,-1.1848) (2.2162,-1.1937) (2.2261,-1.216) (2.2706,-1.2249) (2.3201,-1.2427) (2.3497,-1.2605) (2.3695,-1.2872) (2.3893,-1.3094) (2.4289,-1.3228) (2.4981,-1.3228) (2.5475,-1.3406) (2.5871,-1.3717) (2.6366,-1.3806) (2.696,-1.3762)};
\addplot[cl] coordinates {(2.142,-1.2498) (2.2113,-1.2534) (2.2805,-1.2694) (2.3201,-1.2872) (2.3547,-1.3094) (2.3843,-1.3317) (2.419,-1.3495) (2.4684,-1.3628) (2.503,-1.3851) (2.5198,-1.4118) (2.5277,-1.447)};
\addplot[cl] coordinates {(2.142,-1.2872) (2.2113,-1.289) (2.2706,-1.305) (2.3201,-1.3317) (2.3646,-1.3673) (2.4041,-1.4073) (2.4239,-1.447)};
\end{axis}

\begin{axis}[corner, place={2}{4}, xY, yS]
\addplot[bl] coordinates {(2.3312,3.2247) (2.3415,3.0843) (2.3757,2.9703) (2.4339,2.9171) (2.4682,2.9931) (2.475,3.1223) (2.4579,3.2247)};
\addplot[bl] coordinates {(2.5709,3.0843) (2.588,3.1603) (2.6291,3.1603) (2.6428,3.0615) (2.6154,2.9703) (2.5812,2.9931)};
\addplot[cl] coordinates {(2.2799,3.2247) (2.2662,3.0423) (2.3073,2.8715) (2.3827,2.7954) (2.4854,2.7954) (2.5539,2.8563) (2.6395,2.8943) (2.6943,2.9171)};
\addplot[cl] coordinates {(2.1772,3.2247) (2.1704,3.0423) (2.2045,2.8715) (2.297,2.7194) (2.4168,2.6662) (2.5195,2.6434) (2.6222,2.5902) (2.6943,2.4914)};
\addplot[cl] coordinates {(2.1395,2.8144) (2.2114,2.7156) (2.3141,2.6092) (2.4168,2.5103) (2.5024,2.4115) (2.5709,2.2819) (2.6222,2.122)};
\addplot[cl] coordinates {(2.6393,2.122) (2.6496,2.2287) (2.6943,2.2819)};
\end{axis}

\begin{axis}[corner, place={2}{5}, xY, yGa]
\addplot[bl] coordinates {(2.4682,0.6473) (2.4853,0.6808) (2.5264,0.7104) (2.5538,0.7459) (2.588,0.7498) (2.6051,0.7202) (2.6222,0.6907) (2.6873,0.6808) (2.708,0.6473)};
\addplot[bl] coordinates {(2.1943,0.6473) (2.2045,0.6709) (2.2456,0.6808) (2.2799,0.665) (2.2867,0.6473)};
\addplot[cl] coordinates {(2.2662,0.9331) (2.2354,0.8779) (2.2456,0.8129) (2.3073,0.7695) (2.3827,0.7459) (2.4339,0.7104) (2.4511,0.6473)};
\addplot[cc] coordinates {(2.3073,0.8917) (2.3757,0.9075) (2.4373,0.8779) (2.4236,0.8287) (2.3552,0.8089) (2.3004,0.8385)};
\addplot[cl] coordinates {(2.4853,0.9331) (2.4956,0.872) (2.5435,0.8405) (2.6222,0.8326) (2.6941,0.8385)};
\addplot[cl] coordinates {(2.4168,0.6473) (2.4442,0.7143) (2.4956,0.7656) (2.5812,0.7892) (2.6393,0.7794) (2.6941,0.7597)};
\addplot[cl] coordinates {(2.1395,0.7794) (2.2045,0.7695) (2.2628,0.74) (2.297,0.6907) (2.3141,0.6473)};
\addplot[cl] coordinates {(2.1395,0.8977) (2.1943,0.8918) (2.2183,0.9174) (2.2251,0.9331)};
\end{axis}

\begin{axis}[corner, place={2}{6}, xY, yG]
\addplot[bl] coordinates {(2.394,0.0194) (2.394,0.01926) (2.4,0.01882) (2.447,0.018669) (2.53,0.018568) (2.589,0.018341) (2.618,0.018505) (2.624,0.0194)};
\addplot[bl] coordinates {(2.376,0.016553) (2.394,0.01683) (2.429,0.016742) (2.459,0.01649) (2.473,0.01605) (2.459,0.015861) (2.423,0.015924) (2.394,0.016113)};
\addplot[bl] coordinates {(2.53,0.0129) (2.53,0.013406) (2.553,0.013658) (2.6,0.013683) (2.648,0.013532) (2.695,0.013532) (2.695,0.0129)};
\addplot[fill=black, draw=none] coordinates {(2.140,0.01532) (2.161,0.01532) (2.161,0.01547) (2.140,0.01547)} --cycle;
\addplot[cl] coordinates {(2.323,0.01926) (2.317,0.018694) (2.288,0.018064) (2.246,0.017561) (2.211,0.016931) (2.193,0.016428) (2.187,0.01605) (2.14,0.01605)};
\addplot[cl] coordinates {(2.347,0.01926) (2.341,0.018568) (2.311,0.018001) (2.27,0.017435) (2.258,0.016805) (2.282,0.016302) (2.329,0.015924) (2.388,0.015609) (2.435,0.015357) (2.494,0.015483) (2.541,0.015861) (2.589,0.016239) (2.622,0.016742) (2.63,0.01712) (2.6,0.017309) (2.565,0.017057) (2.524,0.016742) (2.488,0.016994) (2.453,0.017435) (2.435,0.017812) (2.453,0.018165) (2.506,0.018253) (2.565,0.018064) (2.618,0.017938) (2.648,0.018316) (2.654,0.01926)};
\addplot[cl] coordinates {(2.695,0.018064) (2.665,0.017561) (2.657,0.016805) (2.636,0.016176) (2.624,0.015546) (2.642,0.015043) (2.695,0.014854)};
\addplot[cl] coordinates {(2.695,0.016302) (2.654,0.015924) (2.638,0.015483) (2.659,0.015105) (2.695,0.015068)};
\addplot[cl] coordinates {(2.14,0.014917) (2.199,0.01498) (2.246,0.014854) (2.276,0.014413) (2.276,0.013847) (2.24,0.013469) (2.211,0.013028)};
\addplot[cl] coordinates {(2.14,0.015924) (2.211,0.015798) (2.294,0.015672) (2.353,0.015294) (2.412,0.014791) (2.441,0.014413) (2.429,0.013784) (2.423,0.013028)};
\addplot[cl] coordinates {(2.482,0.013028) (2.494,0.013658) (2.53,0.014035) (2.589,0.014287) (2.648,0.014413) (2.695,0.014438)};
\addplot[cl] coordinates {(2.329,0.013028) (2.338,0.013469) (2.35,0.013507) (2.355,0.013028)};
\end{axis}

\begin{axis}[corner, place={2}{7}, xYl, yT]
\addplot[bl] coordinates {(2.536,116.6) (2.553,113.35) (2.565,110.14) (2.583,107.24) (2.612,105.96) (2.695,105.77) (2.695,116.6)};
\addplot[cc] coordinates {(2.223,99.21) (2.235,101.14) (2.27,102.1) (2.317,101.14) (2.335,99.21) (2.323,97.93) (2.27,97.8) (2.229,98.05)};
\addplot[cl] coordinates {(2.14,108.85) (2.187,109.49) (2.223,112.71) (2.24,116.56)};
\addplot[cl] coordinates {(2.14,106.6) (2.181,106.92) (2.223,110.46) (2.264,112.07) (2.341,112.39) (2.388,112.07) (2.423,111.1) (2.471,110.27) (2.488,110.46) (2.494,114.0) (2.488,116.56)};
\addplot[cl] coordinates {(2.347,116.56) (2.347,115.6) (2.4,115.41) (2.453,114.0) (2.461,116.56)};
\addplot[cl] coordinates {(2.14,102.42) (2.17,103.71) (2.211,104.99) (2.27,104.99) (2.305,103.71) (2.343,101.27) (2.376,98.57) (2.388,95.35) (2.37,92.78) (2.35,90.86) (2.341,88.28) (2.311,84.43)};
\addplot[cl] coordinates {(2.14,96.96) (2.187,96.96) (2.223,93.43) (2.246,91.5) (2.27,90.21) (2.282,87.64) (2.288,84.43)};
\addplot[cl] coordinates {(2.329,109.17) (2.37,106.6) (2.412,104.03) (2.435,101.14) (2.447,97.93) (2.433,94.71) (2.388,92.46) (2.364,91.82) (2.376,90.21) (2.347,88.28) (2.335,86.36) (2.329,84.43)};
\addplot[cl] coordinates {(2.695,104.67) (2.624,104.35) (2.565,102.75) (2.506,99.85) (2.465,96.0) (2.459,92.78) (2.482,90.21) (2.506,88.93) (2.524,86.36) (2.53,84.43)};
\addplot[cl] coordinates {(2.695,102.1) (2.659,101.14) (2.624,99.21) (2.6,96.64) (2.6,93.43) (2.612,90.21) (2.618,87.0) (2.618,84.43)};
\end{axis}

% ===================== column 3 (log rho) =====================
\begin{axis}[corner, place={3}{4}, xR, yS]
\addplot[bl] coordinates {(-1.4467,3.2247) (-1.4412,3.1411) (-1.4082,3.0803) (-1.3257,3.0043) (-1.2845,3.0423) (-1.279,3.2247)};
\addplot[cl] coordinates {(-1.257,3.2247) (-1.2487,3.0843) (-1.2762,2.9703) (-1.3532,2.9475) (-1.4082,3.0043) (-1.4467,3.0423)};
\addplot[cl] coordinates {(-1.4467,2.9475) (-1.3944,2.8563) (-1.312,2.8182) (-1.2432,2.7802) (-1.202,2.6282) (-1.1663,2.4381) (-1.1333,2.248) (-1.1195,2.122)};
\addplot[cl] coordinates {(-1.4467,2.8182) (-1.3807,2.7042) (-1.2982,2.6282) (-1.2432,2.5141) (-1.202,2.324) (-1.1883,2.122)};
\addplot[cl] coordinates {(-1.1965,3.2247) (-1.1883,3.0843) (-1.1663,2.9171) (-1.1333,2.7422) (-1.0783,2.5521) (-1.0233,2.4001) (-1.0013,2.3392)};
\end{axis}

\begin{axis}[corner, place={3}{5}, xR, yGa]
\addplot[bl] coordinates {(-1.2432,0.6473) (-1.2377,0.6907) (-1.202,0.7143) (-1.1552,0.7104) (-1.1277,0.6808) (-1.1168,0.6473)};
\addplot[cl] coordinates {(-1.4467,0.9174) (-1.4082,0.8977) (-1.3862,0.8681) (-1.3587,0.8287) (-1.3257,0.7794) (-1.2982,0.7301) (-1.2845,0.6907) (-1.2762,0.6473)};
\addplot[cl] coordinates {(-1.2652,0.6473) (-1.257,0.7104) (-1.202,0.74) (-1.1333,0.734) (-1.092,0.6907) (-1.0838,0.6473)};
\addplot[cl] coordinates {(-1.2982,0.9331) (-1.2845,0.8878) (-1.257,0.8484) (-1.202,0.809) (-1.1388,0.7735) (-1.0783,0.7301) (-1.0508,0.6473)};
\addplot[cl] coordinates {(-1.2432,0.9331) (-1.2295,0.8878) (-1.1883,0.8444) (-1.1278,0.7991) (-1.0646,0.7538) (-1.0233,0.7005) (-1.0013,0.6808)};
\addplot[cl] coordinates {(-1.4467,0.7892) (-1.422,0.7498) (-1.4027,0.7005) (-1.3862,0.6473)};
\end{axis}

\begin{axis}[corner, place={3}{6}, xR, yG]
\addplot[bl] coordinates {(-1.307,0.0194) (-1.307,0.01926) (-1.303,0.01882) (-1.284,0.018442) (-1.26,0.018442) (-1.258,0.018946) (-1.258,0.0194)};
\addplot[bl] coordinates {(-1.293,0.016868) (-1.279,0.017435) (-1.243,0.017649) (-1.208,0.017435) (-1.191,0.016868) (-1.208,0.016302) (-1.243,0.016075) (-1.279,0.016302)};
\addplot[cl] coordinates {(-1.446,0.018379) (-1.407,0.018379) (-1.391,0.018001) (-1.393,0.017057) (-1.4,0.016176) (-1.416,0.015546) (-1.446,0.015357)};
\addplot[cl] coordinates {(-1.446,0.013884) (-1.421,0.013784) (-1.402,0.013406) (-1.398,0.013028)};
\addplot[cl] coordinates {(-1.372,0.01926) (-1.364,0.018568) (-1.355,0.017938) (-1.36,0.017183) (-1.364,0.016302) (-1.364,0.01542) (-1.385,0.014854) (-1.391,0.014539) (-1.376,0.014161) (-1.355,0.013721) (-1.345,0.013028)};
\addplot[cl] coordinates {(-1.338,0.01926) (-1.331,0.018568) (-1.312,0.017938) (-1.317,0.017183) (-1.326,0.01649) (-1.303,0.015861) (-1.29,0.015357) (-1.298,0.014665) (-1.293,0.013028)};
\addplot[cl] coordinates {(-1.227,0.01926) (-1.222,0.018442) (-1.203,0.017812) (-1.189,0.017183) (-1.184,0.016428) (-1.203,0.015924) (-1.236,0.015546) (-1.255,0.015043) (-1.26,0.014413) (-1.251,0.01391) (-1.222,0.013532) (-1.175,0.013469) (-1.165,0.013028)};
\addplot[cl] coordinates {(-1.151,0.01926) (-1.154,0.018442) (-1.151,0.017686) (-1.156,0.016931) (-1.161,0.016176) (-1.175,0.015672) (-1.184,0.015043) (-1.184,0.014413) (-1.161,0.014035) (-1.137,0.013532) (-1.132,0.013028)};
\addplot[cl] coordinates {(-1.108,0.01926) (-1.113,0.018442) (-1.118,0.017435) (-1.113,0.016553) (-1.107,0.015672) (-1.107,0.014665) (-1.094,0.013658) (-1.089,0.013028)};
\end{axis}

\begin{axis}[corner, place={3}{7}, xRl, yT]
\addplot[bl] coordinates {(-1.317,109.17) (-1.298,110.01) (-1.255,109.62) (-1.217,108.21) (-1.203,106.28) (-1.211,103.07) (-1.236,101.14) (-1.26,100.82) (-1.288,102.42) (-1.312,105.0)};
\addplot[cc] coordinates {(-1.194,93.43) (-1.175,94.07) (-1.161,93.75) (-1.163,91.82) (-1.189,91.82)};
\addplot[cl] coordinates {(-1.446,114.96) (-1.416,113.35) (-1.393,109.49) (-1.388,105.64) (-1.383,102.42) (-1.376,99.21) (-1.383,96.0) (-1.402,94.07) (-1.412,90.86) (-1.407,84.43)};
\addplot[cl] coordinates {(-1.395,116.56) (-1.383,114.0) (-1.364,112.71) (-1.355,110.14) (-1.345,106.92) (-1.326,103.07) (-1.307,100.5) (-1.284,96.64) (-1.274,95.03) (-1.255,95.03) (-1.232,97.28) (-1.213,99.21) (-1.184,101.14) (-1.165,103.07) (-1.156,105.64) (-1.156,107.89) (-1.17,109.49) (-1.189,110.78) (-1.213,112.07) (-1.232,113.03) (-1.236,114.64) (-1.236,116.56)};
\addplot[cl] coordinates {(-1.446,109.49) (-1.426,108.85) (-1.407,105.64) (-1.388,101.78) (-1.364,98.57) (-1.341,96.64) (-1.326,93.43) (-1.326,89.57) (-1.334,84.43)};
\addplot[cl] coordinates {(-1.189,116.56) (-1.192,114.64) (-1.175,112.07) (-1.156,110.78) (-1.146,108.21) (-1.151,104.35) (-1.156,100.5) (-1.151,97.28) (-1.132,94.71) (-1.123,92.78) (-1.137,89.57) (-1.161,87.64) (-1.165,84.43)};
\addplot[cl] coordinates {(-1.151,116.56) (-1.151,114.64) (-1.127,112.71) (-1.104,109.49) (-1.101,105.64) (-1.108,101.78) (-1.113,98.57) (-1.099,95.35) (-1.089,91.5) (-1.094,88.28) (-1.099,84.43)};
\addplot[cl] coordinates {(-1.288,84.43) (-1.284,86.68) (-1.26,88.28) (-1.236,88.28) (-1.217,87.0) (-1.213,84.43)};
\end{axis}

% ===================== column 4 (r_s) =====================
\begin{axis}[corner, place={4}{5}, xS, yGa]
\addplot[bl] coordinates {(2.7034,0.6473) (2.7507,0.6709) (2.9197,0.6907) (3.0887,0.7104) (3.2239,0.7202) (3.258,0.7202) (3.258,0.6473)};
\addplot[bl] coordinates {(3.258,0.8168) (3.1562,0.805) (3.1359,0.7892) (3.1697,0.7735) (3.258,0.7695)};
\addplot[cl] coordinates {(2.2776,0.9331) (2.2573,0.8878) (2.3114,0.8484) (2.3519,0.7991) (2.2979,0.7597) (2.3114,0.7203) (2.3654,0.6808) (2.3789,0.6473)};
\addplot[cl] coordinates {(2.4465,0.6473) (2.5479,0.6709) (2.7169,0.7005) (2.8859,0.7301) (3.0414,0.7597) (3.1225,0.809) (3.1562,0.8484) (3.258,0.8681)};
\addplot[cl] coordinates {(2.8521,0.9331) (2.8859,0.8977) (2.9873,0.8779) (3.0887,0.8878) (3.258,0.9075)};
\addplot[cl] coordinates {(2.6155,0.6473) (2.6831,0.6808) (2.8521,0.7104) (3.0211,0.734) (3.258,0.7459)};
\end{axis}

\begin{axis}[corner, place={4}{6}, xS, yG]
\addplot[bl] coordinates {(2.985,0.0194) (2.985,0.01926) (3.008,0.018946) (3.055,0.018795) (3.148,0.01882) (3.218,0.018883) (3.218,0.0194)};
\addplot[bl] coordinates {(2.74,0.016994) (2.775,0.017183) (2.892,0.017208) (3.008,0.017057) (3.036,0.016742) (3.008,0.016402) (2.915,0.016276) (2.822,0.016302) (2.757,0.016553)};
\addplot[bl] coordinates {(3.218,0.015609) (3.136,0.01542) (3.083,0.015043) (3.083,0.014539) (3.136,0.014035) (3.218,0.013884) (3.23,0.0148)};
\addplot[cl] coordinates {(2.309,0.01926) (2.332,0.01882) (2.391,0.018442) (2.449,0.01819) (2.496,0.017812) (2.514,0.017057) (2.507,0.016428) (2.484,0.01605) (2.426,0.01605) (2.356,0.016302) (2.309,0.016805) (2.239,0.01712) (2.13,0.017183)};
\addplot[cl] coordinates {(2.13,0.015697) (2.239,0.015672) (2.332,0.01542) (2.426,0.015231) (2.542,0.01542) (2.565,0.015043) (2.554,0.014665) (2.472,0.014287) (2.379,0.01391) (2.321,0.013532) (2.286,0.013028)};
\addplot[cl] coordinates {(2.635,0.01926) (2.617,0.018568) (2.682,0.018001) (2.654,0.017498) (2.64,0.016931) (2.663,0.016365) (2.74,0.015924) (2.845,0.015672) (2.915,0.015294) (2.962,0.014791) (3.02,0.014287) (3.099,0.013809) (3.148,0.013406) (3.16,0.013028)};
\addplot[cl] coordinates {(2.892,0.01926) (2.887,0.018505) (2.857,0.018127) (2.764,0.018089) (2.705,0.017938) (2.687,0.017498) (2.705,0.016868) (2.757,0.016402) (2.85,0.01605) (2.95,0.015924) (3.032,0.01605) (3.078,0.016402) (3.136,0.016616) (3.218,0.016679)};
\addplot[cl] coordinates {(3.218,0.018379) (3.113,0.018291) (3.043,0.017938) (3.078,0.017498) (3.148,0.01712) (3.218,0.016994)};
\addplot[cl] coordinates {(2.402,0.013028) (2.449,0.013507) (2.542,0.013809) (2.631,0.01391) (2.705,0.014413) (2.764,0.015043) (2.822,0.015357) (2.892,0.015357) (2.92,0.01498) (2.95,0.014413) (3.0,0.01391) (3.05,0.013406) (3.06,0.013028)};
\end{axis}

\begin{axis}[corner, place={4}{7}, xSl, yT]
\addplot[bl] coordinates {(3.078,116.6) (3.09,114.0) (3.113,112.07) (3.078,110.46) (2.997,108.85) (2.962,106.92) (2.966,104.35) (3.008,103.07) (3.101,102.55) (3.218,102.75) (3.218,116.6)};
\addplot[cl] coordinates {(2.437,116.56) (2.437,113.67) (2.379,110.14) (2.297,108.21) (2.263,106.28) (2.297,103.07) (2.309,99.85) (2.344,96.64) (2.426,94.71) (2.461,92.78) (2.484,90.21) (2.491,87.64) (2.437,85.71) (2.426,84.43)};
\addplot[cl] coordinates {(2.584,116.56) (2.577,113.67) (2.542,111.42) (2.519,109.49) (2.519,106.92) (2.589,104.99) (2.67,103.07) (2.705,100.5) (2.729,99.53) (2.67,97.28) (2.624,94.71) (2.647,91.5) (2.659,88.28) (2.663,84.43)};
\addplot[cl] coordinates {(2.973,116.56) (2.973,114.0) (2.868,112.71) (2.775,111.74) (2.705,109.82) (2.647,108.85) (2.647,107.89) (2.705,106.92) (2.787,104.99) (2.845,102.42) (2.892,99.21) (2.903,98.25) (2.822,97.28) (2.729,95.68) (2.705,94.07) (2.705,90.86) (2.717,87.96) (2.705,84.43)};
\addplot[cl] coordinates {(3.218,100.5) (3.09,99.72) (3.008,98.57) (2.962,97.28) (2.973,95.68) (2.95,92.78) (2.927,90.21) (2.892,87.64) (2.892,84.43)};
\addplot[cl] coordinates {(3.218,97.28) (3.16,96.32) (3.148,94.39) (3.183,92.78) (3.218,92.46)};
\end{axis}

% ===================== column 5 (gamma) =====================
\begin{axis}[corner, place={5}{6}, xGa, yG]
\addplot[bl] coordinates {(0.649,0.0194) (0.6732,0.0194) (0.6762,0.018694) (0.6822,0.017812) (0.6883,0.017183) (0.6852,0.016428) (0.6762,0.016113) (0.649,0.015987)};
\addplot[bl] coordinates {(0.7547,0.016868) (0.7638,0.01712) (0.7759,0.016994) (0.791,0.016679) (0.785,0.01649) (0.7699,0.016616)};
\addplot[bl] coordinates {(0.649,0.014098) (0.6671,0.014035) (0.6822,0.013784) (0.6913,0.013406) (0.6943,0.0129) (0.649,0.0129)};
\addplot[fill=black, draw=none] coordinates {(0.7517,0.013305) (0.7584,0.013305) (0.7584,0.0129) (0.7517,0.0129)} --cycle;
\addplot[cl] coordinates {(0.7396,0.01926) (0.7366,0.018442) (0.7215,0.018127) (0.7064,0.018001) (0.7003,0.017624) (0.7094,0.01712) (0.7245,0.017561) (0.7427,0.017938) (0.7668,0.017686) (0.797,0.017183) (0.8182,0.016679) (0.8242,0.01605) (0.8152,0.015546) (0.797,0.014791) (0.788,0.015168) (0.785,0.015798) (0.7638,0.016176) (0.7396,0.016113) (0.7124,0.015672) (0.6883,0.015546) (0.649,0.015647)};
\addplot[cl] coordinates {(0.7638,0.01926) (0.7668,0.018694) (0.7789,0.018316) (0.8001,0.017938) (0.8273,0.017435) (0.8454,0.016931) (0.8545,0.016428) (0.8502,0.015672) (0.8575,0.015231) (0.8817,0.015143) (0.933,0.015143)};
\addplot[cl] coordinates {(0.7789,0.01926) (0.785,0.018883) (0.8001,0.01882) (0.8122,0.019134) (0.814,0.01926)};
\addplot[cl] coordinates {(0.8454,0.01926) (0.8502,0.018694) (0.8635,0.018467) (0.8937,0.018467) (0.933,0.018719)};
\addplot[cl] coordinates {(0.8726,0.01926) (0.8786,0.018946) (0.8937,0.018883) (0.9149,0.019009) (0.933,0.019097)};
\addplot[cl] coordinates {(0.933,0.018505) (0.8937,0.018253) (0.8454,0.017875) (0.8381,0.017586) (0.8575,0.017309) (0.8756,0.016994) (0.8817,0.016428) (0.8829,0.015924) (0.8998,0.015609) (0.933,0.015546)};
\addplot[cl] coordinates {(0.933,0.014161) (0.8998,0.014413) (0.8786,0.014602) (0.8575,0.01435) (0.8333,0.01391) (0.8182,0.013406) (0.814,0.013028)};
\addplot[cc] coordinates {(0.6701,0.014791) (0.7003,0.014917) (0.7245,0.015106) (0.7396,0.015231) (0.7517,0.015043) (0.7457,0.014665) (0.7306,0.01435) (0.7124,0.014161) (0.6943,0.014287) (0.6762,0.014539)};
\addplot[cl] coordinates {(0.649,0.014287) (0.6701,0.014161) (0.6913,0.013784) (0.7094,0.013343) (0.7155,0.013028)};
\addplot[cl] coordinates {(0.7366,0.013028) (0.7396,0.013658) (0.7547,0.01391) (0.7729,0.01391) (0.797,0.013595) (0.8031,0.013028)};
\end{axis}

\begin{axis}[corner, place={5}{7}, xGal, yT]
\addplot[bl] coordinates {(0.649,111.42) (0.6762,111.1) (0.6973,109.49) (0.7124,107.89) (0.7003,105.64) (0.6883,103.07) (0.6701,101.14) (0.649,100.17)};
\addplot[bl] coordinates {(0.7155,107.89) (0.7306,109.49) (0.7517,109.82) (0.7596,108.21) (0.7487,106.92) (0.7336,106.92)};
\addplot[bl] coordinates {(0.7777,116.6) (0.7819,114.64) (0.794,113.86) (0.8091,114.64) (0.814,116.6)};
\addplot[bl] coordinates {(0.649,90.21) (0.6701,88.93) (0.6822,87.0) (0.6883,84.3) (0.649,84.3)};
\addplot[cl] coordinates {(0.649,114.31) (0.6762,114.12) (0.7064,113.86) (0.7185,114.96) (0.7275,116.56)};
\addplot[cl] coordinates {(0.649,112.39) (0.6822,112.07) (0.7094,111.74) (0.7306,113.03) (0.7366,114.96) (0.7366,116.56)};
\addplot[cl] coordinates {(0.649,90.86) (0.6762,89.89) (0.6943,87.64) (0.7034,84.43)};
\addplot[cl] coordinates {(0.6762,84.43) (0.6822,91.5) (0.6913,94.07) (0.7034,96.64) (0.7185,99.21) (0.7245,101.46) (0.7427,102.42) (0.7729,103.07) (0.8031,103.07) (0.8333,102.42) (0.8575,101.78) (0.8817,102.1) (0.8938,103.71) (0.8968,105.32) (0.8877,106.6) (0.8756,107.57) (0.8575,108.85) (0.8454,111.42) (0.8514,113.35) (0.8665,114.96) (0.8756,116.56)};
\addplot[cl] coordinates {(0.7155,84.43) (0.7215,87.64) (0.7366,90.21) (0.7547,92.78) (0.7638,94.71) (0.7578,97.28) (0.7547,99.21) (0.7729,100.5) (0.797,100.17) (0.8212,99.21) (0.8363,97.93) (0.8424,96.0) (0.8575,95.35) (0.8756,95.68) (0.8817,97.28) (0.8938,99.21) (0.9119,101.14) (0.933,102.55)};
\addplot[cc] coordinates {(0.7366,93.43) (0.7517,94.2) (0.7759,94.2) (0.791,92.46) (0.7789,90.86) (0.7578,90.53) (0.7396,91.18)};
\addplot[cl] coordinates {(0.933,106.6) (0.9119,108.21) (0.8968,110.14) (0.8817,111.42) (0.8786,113.03) (0.8938,114.64) (0.9058,116.56)};
\addplot[cl] coordinates {(0.933,88.61) (0.9149,88.28) (0.8998,86.68) (0.8968,84.43)};
\addplot[cl] coordinates {(0.933,87.32) (0.9179,86.68) (0.9119,84.43)};
\addplot[cl] coordinates {(0.8393,84.43) (0.8424,88.28) (0.8442,91.5) (0.8514,94.07) (0.8756,94.58) (0.8907,96.64) (0.9058,98.57) (0.933,100.17)};
\end{axis}

% ===================== column 6 (Gamma) =====================
\begin{axis}[corner, place={6}{7}, xGl, yT]
\addplot[bl] coordinates {(0.01301,116.7) (0.014914,116.7) (0.014914,115.4) (0.01469,114.62) (0.01413,114.75) (0.013682,114.1) (0.013234,114.1) (0.01301,114.1)};
\addplot[bl] coordinates {(0.01301,111.83) (0.013458,110.85) (0.01366,108.58) (0.013682,106.63) (0.013458,105.33) (0.01301,105.01)};
\addplot[bl] coordinates {(0.016258,107.28) (0.016482,109.23) (0.01693,109.88) (0.017378,109.23) (0.017602,106.96) (0.01749,105.01) (0.017042,103.84) (0.016594,104.03) (0.016314,105.33)};
\addplot[bl] coordinates {(0.019282,112.15) (0.01889,111.5) (0.018632,109.88) (0.01861,107.28) (0.018834,105.66) (0.019282,105.33)};
\addplot[bl] coordinates {(0.016202,84.43) (0.016258,86.83) (0.016426,88.65) (0.01665,88.13) (0.016818,86.18) (0.01684,84.43)};
\addplot[cl] coordinates {(0.01301,104.03) (0.013458,104.36) (0.013906,105.01) (0.01413,106.31) (0.014186,107.93) (0.014074,109.55) (0.01385,111.18) (0.013906,112.47) (0.014466,112.8) (0.014858,113.45) (0.015082,114.75) (0.015194,116.7)};
\addplot[cl] coordinates {(0.015866,116.7) (0.015922,113.77) (0.016482,112.15) (0.017378,111.96) (0.01777,112.28) (0.018106,113.12) (0.018386,115.4) (0.018442,116.7)};
\addplot[cl] coordinates {(0.015474,116.7) (0.01553,113.45) (0.01572,111.83) (0.01637,110.98) (0.017266,110.98) (0.017938,110.53) (0.018274,111.18) (0.01861,113.12) (0.01889,115.4) (0.018946,116.7)};
\addplot[cl] coordinates {(0.019282,104.49) (0.01861,104.75) (0.01805,103.84) (0.01749,102.93) (0.016706,102.41) (0.016034,102.41) (0.01572,103.32) (0.015642,105.98) (0.01572,108.9) (0.015922,109.88) (0.016482,110.33) (0.017266,110.33) (0.017826,109.68) (0.018162,108.25) (0.018274,105.98) (0.018498,105.33) (0.01889,104.88) (0.019282,104.68)};
\addplot[cl] coordinates {(0.01301,103.84) (0.013682,103.58) (0.01413,102.74) (0.01441,100.79) (0.014914,99.81) (0.015698,99.16) (0.01637,99.68) (0.017266,100.14) (0.018162,100.46) (0.019282,100.79)};
\addplot[cl] coordinates {(0.01301,101.89) (0.01357,101.89) (0.013906,100.14) (0.014186,98.84) (0.01469,98.19) (0.015474,97.87) (0.015978,97.54) (0.016482,98.0) (0.01749,98.19) (0.018386,98.0) (0.019282,97.74)};
\addplot[cl] coordinates {(0.01301,93.65) (0.013794,93.45) (0.014354,92.35) (0.014858,91.37) (0.015082,89.43) (0.015138,86.83) (0.015138,84.43)};
\addplot[cl] coordinates {(0.01301,91.37) (0.013458,90.72) (0.013906,89.1) (0.014186,87.48) (0.014242,84.43)};
\addplot[cl] coordinates {(0.01301,89.43) (0.013402,88.78) (0.013738,87.15) (0.01385,84.43)};
\addplot[cl] coordinates {(0.01301,88.13) (0.013346,87.48) (0.01357,86.18) (0.013592,84.43)};
\addplot[cl] coordinates {(0.015474,84.43) (0.015496,89.43) (0.015564,92.67) (0.01581,94.62) (0.01637,95.59) (0.017266,95.92) (0.018162,96.24) (0.019282,96.7)};
\addplot[cl] coordinates {(0.015754,84.43) (0.015754,90.07) (0.015922,92.35) (0.016258,93.65) (0.016818,94.49) (0.01749,94.88) (0.01805,95.14) (0.01852,95.27) (0.01861,93.65) (0.018162,93.13) (0.01749,92.8) (0.017154,91.37) (0.01702,88.13) (0.01702,84.43)};
\addplot[cl] coordinates {(0.019282,93.0) (0.01861,92.02) (0.01805,90.4) (0.017826,88.13) (0.01777,84.43)};
\addplot[cl] coordinates {(0.019282,91.5) (0.018834,90.72) (0.018498,89.43) (0.018386,87.48) (0.018386,84.43)};
\end{axis}

\end{tikzpicture}
\end{document}
